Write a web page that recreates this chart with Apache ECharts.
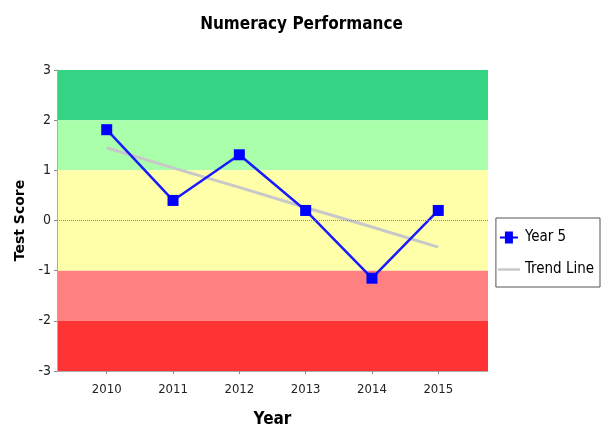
<!DOCTYPE html>
<html>
<head>
<meta charset="UTF-8">
<title>Numeracy Performance</title>
<style>
  html, body { margin: 0; padding: 0; background: #fff; }
  #main { width: 603px; height: 431px; }
</style>
</head>
<body>
<div id="main"></div>
<script src="https://cdn.jsdelivr.net/npm/echarts@6/dist/echarts.min.js"></script>
<script>
var years = [2010, 2011, 2012, 2013, 2014, 2015];
var year5 = [1.81, 0.40, 1.31, 0.20, -1.15, 0.20];
var trend = [1.45, 1.05, 0.66, 0.26, -0.13, -0.53];
var bands = [
  [2, 3, '#35d384'],
  [1, 2, '#aaffaa'],
  [-1, 1, '#ffffaa'],
  [-2, -1, '#ff8080'],
  [-3, -2, '#ff3333']
];

var font = '"DejaVu Sans Condensed", sans-serif';

function pairs(vals) {
  return years.map(function (y, i) { return [y, vals[i]]; });
}

var chart = echarts.init(document.getElementById('main'));
chart.setOption({
  backgroundColor: '#fff',
  animation: false,
  title: {
    text: 'Numeracy Performance',
    left: 'center',
    top: 11,
    textStyle: { fontFamily: font, fontSize: 17, fontWeight: 'bold', color: '#000' }
  },
  legend: {
    orient: 'vertical',
    right: 3,
    top: 218,
    itemGap: 17,
    itemWidth: 22,
    itemHeight: 12,
    padding: [12, 6, 10, 2],
    borderColor: '#555',
    borderWidth: 1,
    textStyle: { fontFamily: font, fontSize: 15, color: '#000' },
    data: [
      { name: 'Year 5', icon: 'path://M0,5 L5,5 L5,0 L13,0 L13,5 L18,5 L18,7 L13,7 L13,12 L5,12 L5,7 L0,7 Z' },
      { name: 'Trend Line', icon: 'path://M0,5 L18,5 L18,7 L0,7 Z', itemStyle: { color: '#c8c8c8' } }
    ]
  },
  grid: { left: 57, right: 115, top: 70, bottom: 60, outerBoundsMode: 'none' },
  xAxis: {
    type: 'value',
    min: 2009.25,
    max: 2015.75,
    name: 'Year',
    nameLocation: 'middle',
    nameGap: 40,
    nameTextStyle: { fontFamily: font, fontSize: 17, fontWeight: 'bold', color: '#000' },
    axisLine: { onZero: false, lineStyle: { color: '#aaa' } },
    axisTick: { show: true, customValues: years, length: 3, lineStyle: { color: '#888' } },
    axisLabel: {
      customValues: years, fontFamily: font, fontSize: 13, color: '#222', margin: 12,
      formatter: function (v) { return String(v); }
    },
    splitLine: { show: false }
  },
  yAxis: {
    type: 'value',
    min: -3,
    max: 3,
    interval: 1,
    name: 'Test Score',
    nameLocation: 'middle',
    nameGap: 25,
    nameTextStyle: { fontFamily: '"DejaVu Sans", sans-serif', fontSize: 14, fontWeight: 'bold', color: '#000' },
    axisLine: { show: true, onZero: false, lineStyle: { color: '#aaa' } },
    axisTick: { show: true, length: 3, lineStyle: { color: '#888' } },
    axisLabel: { fontFamily: font, fontSize: 14, color: '#222', margin: 6 },
    splitLine: { show: false }
  },
  series: [
    {
      name: 'Trend Line',
      type: 'line',
      data: pairs(trend),
      symbol: 'none',
      lineStyle: { color: '#c8c8c8', width: 3 },
      itemStyle: { color: '#c8c8c8' },
      z: 3,
      markArea: {
        silent: true,
        z: 0,
        data: bands.map(function (b) {
          return [{ yAxis: b[0], itemStyle: { color: b[2] } }, { yAxis: b[1] }];
        })
      },
      markLine: {
        silent: true,
        symbol: 'none',
        label: { show: false },
        lineStyle: { color: '#8888aa', type: 'dotted', width: 1 },
        data: [{ yAxis: 0 }]
      }
    },
    {
      name: 'Year 5',
      type: 'line',
      data: pairs(year5),
      symbol: 'rect',
      symbolSize: 11,
      lineStyle: { color: '#1a1aff', width: 2.5 },
      itemStyle: { color: '#0000ff' },
      z: 4
    }
  ]
});
</script>
</body>
</html>
